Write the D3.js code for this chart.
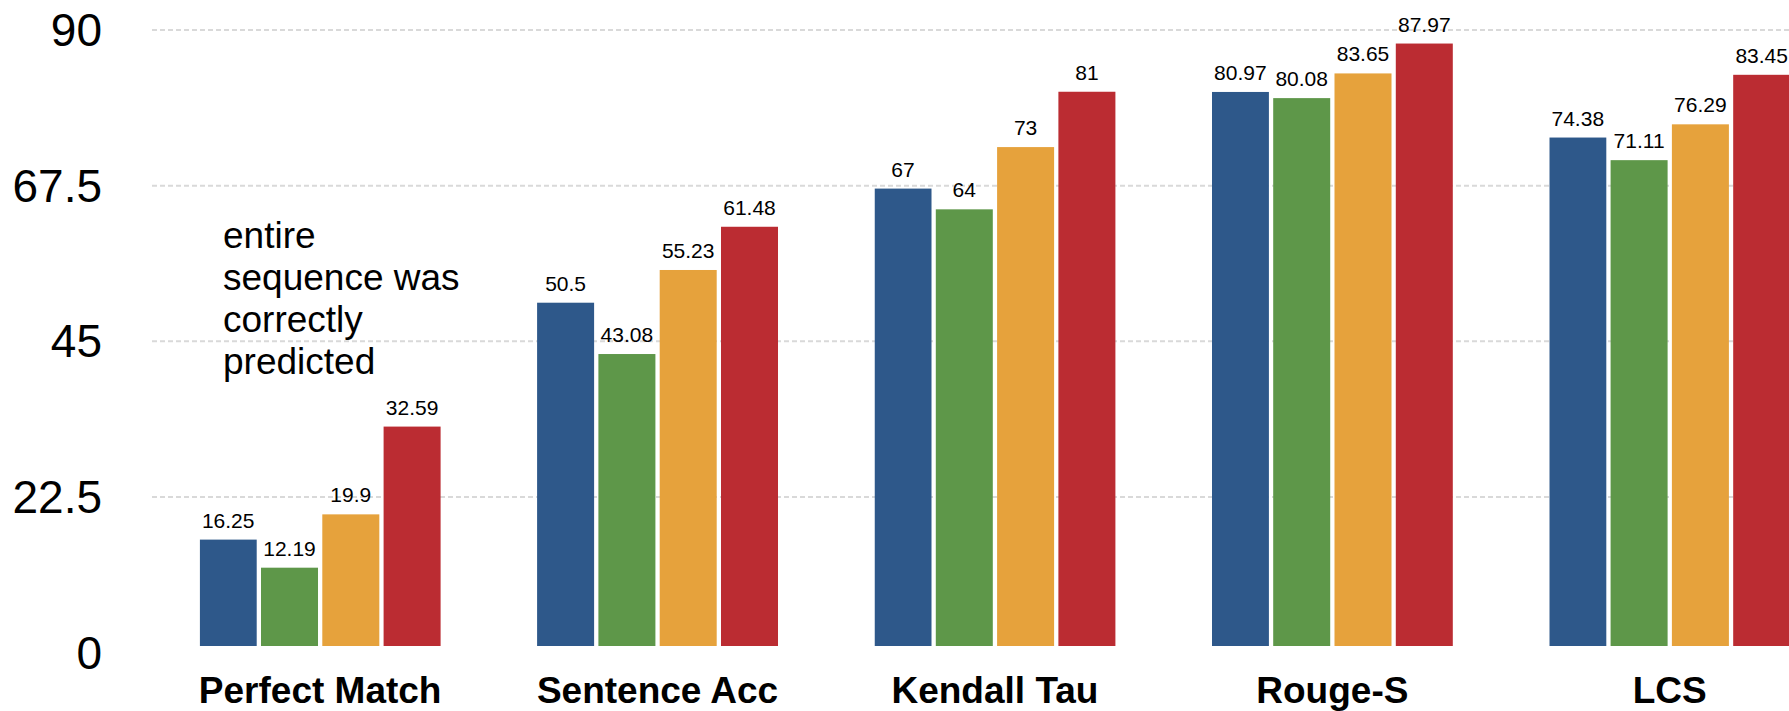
<!DOCTYPE html>
<html>
<head>
<meta charset="utf-8">
<script src="https://cdn.jsdelivr.net/npm/d3@7"></script>
<style>
  html, body { margin: 0; padding: 0; background: #fff; }
  svg { display: block; font-family: "Liberation Sans", Arial, sans-serif; }
</style>
</head>
<body>
<svg id="chart" width="1789" height="711"></svg>
<script>
// Metric groups along the x axis
const categories = ["Perfect Match", "Sentence Acc", "Kendall Tau", "Rouge-S", "LCS"];

// One array per method, in drawing order within each group
const series1 = [16.25, 50.5, 67, 80.97, 74.38];
const series2 = [12.19, 43.08, 64, 80.08, 71.11];
const series3 = [19.9, 55.23, 73, 83.65, 76.29];
const series4 = [32.59, 61.48, 81, 87.97, 83.45];
const seriesNames = ["series1", "series2", "series3", "series4"];
const seriesValues = [series1, series2, series3, series4];
const seriesColors = ["#2e588a", "#5e9749", "#e6a23c", "#bb2c32"];

// Y axis ticks
const yTicks = [0, 22.5, 45, 67.5, 90];
const gridTicks = [22.5, 45, 67.5, 90];

// Annotation lines
const noteLines = ["entire", "sequence was", "correctly", "predicted"];

const W = 1789, H = 711;
const svg = d3.select("#chart");

const y = d3.scaleLinear().domain([0, 90]).range([652, 29.5]);
const x0 = d3.scaleBand().domain(categories).range([199.7, 1790.2])
  .paddingInner(0.286).paddingOuter(0);
const x1 = d3.scaleBand().domain(seriesNames).range([0, x0.bandwidth()])
  .paddingInner(0.07).paddingOuter(0);

// Dashed horizontal gridlines
const grid = svg.append("g").attr("transform", "translate(152,0)")
  .call(d3.axisLeft(y).tickValues(gridTicks).tickSize(-(W - 152)).tickFormat(""));
grid.select(".domain").remove();
grid.selectAll("line")
  .attr("stroke", "#d9d9d9").attr("stroke-width", 2).attr("stroke-dasharray", "5,3");

// Y tick labels
const yAxis = svg.append("g").attr("transform", "translate(102,0)")
  .call(d3.axisLeft(y).tickValues(yTicks).tickSize(0).tickPadding(0)
    .tickFormat(d => String(d)));
yAxis.select(".domain").remove();
yAxis.selectAll("text")
  .attr("font-family", "'Liberation Sans', Arial, sans-serif")
  .attr("font-size", 46).attr("fill", "#000").attr("dy", "0.35em");

// Plot area clip for the bars
svg.append("defs").append("clipPath").attr("id", "plotClip")
  .append("rect").attr("x", 0).attr("y", 0).attr("width", W).attr("height", 646);

const rows = categories.map((c, i) => ({
  cat: c,
  items: seriesNames.map((s, j) => ({ key: s, value: seriesValues[j][i], color: seriesColors[j] }))
}));

const groups = svg.append("g").selectAll("g.grp").data(rows).join("g")
  .attr("class", "grp")
  .attr("transform", d => `translate(${x0(d.cat)},0)`);

groups.append("g").attr("clip-path", "url(#plotClip)")
  .selectAll("rect").data(d => d.items).join("rect")
  .attr("x", d => x1(d.key))
  .attr("width", x1.bandwidth())
  .attr("y", d => y(d.value))
  .attr("height", d => y(0) - y(d.value))
  .attr("fill", d => d.color);

groups.selectAll("text.val").data(d => d.items).join("text")
  .attr("class", "val")
  .attr("x", d => x1(d.key) + x1.bandwidth() / 2)
  .attr("y", d => y(d.value) - 12)
  .attr("text-anchor", "middle")
  .attr("font-size", 21)
  .attr("fill", "#000")
  .text(d => String(d.value));

// Category labels
svg.append("g").selectAll("text").data(categories).join("text")
  .attr("x", d => x0(d) + x0.bandwidth() / 2)
  .attr("y", 703)
  .attr("text-anchor", "middle")
  .attr("font-size", 37)
  .attr("font-weight", "bold")
  .attr("fill", "#000")
  .text(d => d);

// Annotation text
const note = svg.append("g").attr("transform", "translate(223,0)");
note.selectAll("text").data(noteLines).join("text")
  .attr("x", 0)
  .attr("y", (d, i) => 248 + i * 42)
  .attr("font-size", 37)
  .attr("fill", "#000")
  .text(d => d);
</script>
</body>
</html>
